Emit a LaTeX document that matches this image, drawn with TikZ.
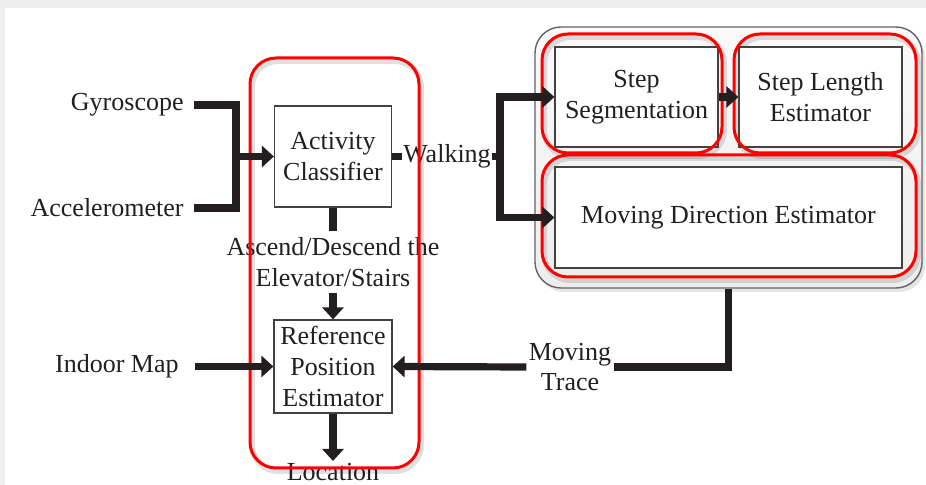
\documentclass[tikz,border=0pt]{standalone}
\usepackage{fontspec}
\setmainfont{Liberation Serif}
\usetikzlibrary{arrows.meta}
\definecolor{ink}{HTML}{231F20}
\definecolor{bggray}{HTML}{EEEEEE}
\newcommand\dtxt{\fontsize{13}{15.3}\selectfont}
\begin{document}
\begin{tikzpicture}[x=0.5pt,y=-0.5pt,
  box/.style={draw=ink!85, line width=0.6pt, fill=white, inner sep=0pt, align=center, font=\dtxt, text=ink},
  lbl/.style={inner sep=0pt, align=center, font=\dtxt, text=ink},
  conn/.style={draw=ink, line width=3.6pt},
  arr/.style={conn, -{Triangle[length=6pt,width=10.5pt]}},
  redbox/.style={draw=red, line width=1.5pt, rounded corners=13pt},
  redshadow/.style={draw=black, opacity=0.12, line width=3pt, rounded corners=13pt},
  container/.style={draw=ink!70, line width=0.7pt, rounded corners=13pt, top color=gray!4, bottom color=gray!14, inner sep=0pt}]
\useasboundingbox (0,0) rectangle (926,485);
\fill[bggray] (0,0) rectangle (926,485);
\fill[white] (5,8) rectangle (926,485);

% container
\fill[black, opacity=0.10, rounded corners=13pt] (538,31) rectangle (925,292);
\node[container, minimum width=193.5pt, minimum height=130.5pt] (cont) at (728.5,157.5) {};

% shadows of red boxes
\draw[redshadow] (252,61) rectangle (421,471);
\draw[redshadow] (544,37) rectangle (724,156);
\draw[redshadow] (736,37) rectangle (918,156);
\draw[redshadow] (544,158) rectangle (918,280);

% boxes
\node[box, minimum width=58.5pt, minimum height=50.5pt] (act) at (333,156.5) {Activity\\Classifier};
\node[box, minimum width=59pt, minimum height=46.5pt] (ref) at (333,366.5) {Reference\\Position\\Estimator};
\node[box, minimum width=81.5pt, minimum height=50pt] (seg) at (636.5,97) {Step\\Segmentation};
\node[box, minimum width=81.5pt, minimum height=50pt] (sle) at (820.5,97) {Step Length\\Estimator};
\node[box, minimum width=173.5pt, minimum height=50.5pt] (mde) at (728.5,217.5) {Moving Direction Estimator};

% labels
\node[lbl, anchor=east, inner xsep=5pt] (gyro) at (194,105) {Gyroscope};
\node[lbl, anchor=east, inner xsep=5pt] (accel) at (194,208) {Accelerometer};
\node[lbl, anchor=east, inner xsep=8pt] (indoor) at (195,366.5) {Indoor Map};
\node[lbl, inner xsep=0.5pt] (walk) at (447,156.5) {Walking};
\node[lbl, inner ysep=3pt] (asc) at (333,262) {Ascend/Descend the\\Elevator/Stairs};
\node[lbl, inner xsep=1pt] (mt) at (570,367) {Moving\\Trace};
\node[lbl, anchor=north, inner ysep=1pt] (loc) at (333,461) {Location};

% red boxes
\draw[redbox] (250,58) rectangle (419,468);
\draw[redbox] (542,34) rectangle (722,153);
\draw[redbox] (734,34) rectangle (916,153);
\draw[redbox] (542,155) rectangle (916,277);

% connectors
\coordinate (j1) at (236,156.5);
\coordinate (j2) at (500,156.5);
\draw[conn] (gyro.east) -| (j1);
\draw[conn] (accel.east) -| (j1);
\draw[arr] (j1) -- (act.west);
\draw[conn] (act.east) -- (walk.west);
\draw[conn] (walk.east) -- (j2);
\draw[arr] (j2) |- (seg.west);
\draw[arr] (j2) |- (mde.west);
\draw[arr] (seg.east) -- (sle.west);
\draw[conn] (act.south) -- (asc.north);
\draw[arr] (asc.south) -- (ref.north);
\draw[arr] (indoor.east) -- (ref.west);
\draw[conn] (cont.south) |- (mt.east);
\draw[arr] (mt.west) -- (ref.east);
\draw[arr] (ref.south) -- (loc.north);
\end{tikzpicture}
\end{document}
